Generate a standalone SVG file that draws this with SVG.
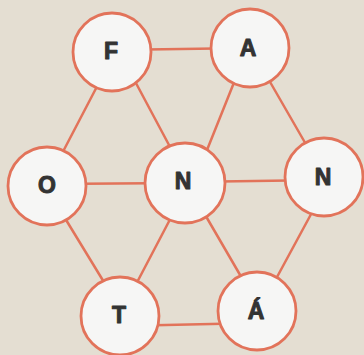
<svg xmlns="http://www.w3.org/2000/svg" width="364" height="355" viewBox="0 0 364 355">
<defs>
<style>
.bg{fill:#e4ded2}
.edge{stroke:#e2735a;stroke-width:2.5;fill:none;stroke-linecap:round}
.node circle{fill:#f6f6f5;stroke:#e2735a;stroke-width:2.8}
.node text{font-family:"Liberation Sans",Arial,sans-serif;font-weight:bold;font-size:23px;fill:#333;stroke:#333;stroke-width:1;stroke-linejoin:round;text-anchor:middle}
</style>
</defs>
<rect class="bg" x="0" y="0" width="364" height="355"/>
<g id="connectors">
<line class="edge" x1="112" y1="50" x2="250" y2="48"/>
<line class="edge" x1="47" y1="184" x2="185" y2="183"/>
<line class="edge" x1="185" y1="182" x2="324" y2="180"/>
<line class="edge" x1="120" y1="326" x2="257" y2="323"/>
<line class="edge" x1="103" y1="75" x2="56" y2="165"/>
<line class="edge" x1="129" y1="70" x2="177" y2="160"/>
<line class="edge" x1="239" y1="70" x2="201" y2="165"/>
<line class="edge" x1="262" y1="68" x2="315" y2="160"/>
<line class="edge" x1="60" y1="210" x2="110" y2="292"/>
<line class="edge" x1="176" y1="208" x2="133" y2="290"/>
<line class="edge" x1="200" y1="206" x2="250" y2="292"/>
<line class="edge" x1="316" y1="205" x2="270" y2="290"/>
</g>
<g id="node-F" class="node"><circle cx="112" cy="52" r="39"/><text x="111" y="59">F</text></g>
<g id="node-A" class="node"><circle cx="250" cy="48" r="39"/><text x="248" y="56">A</text></g>
<g id="node-O" class="node"><circle cx="47" cy="186" r="39"/><text x="47" y="193">O</text></g>
<g id="node-N1" class="node"><circle cx="185" cy="183" r="40"/><text x="183" y="189">N</text></g>
<g id="node-N2" class="node"><circle cx="324" cy="177" r="39"/><text x="323" y="185">N</text></g>
<g id="node-T" class="node"><circle cx="120" cy="316" r="39"/><text x="119" y="323">T</text></g>
<g id="node-A2" class="node"><circle cx="257" cy="311" r="39"/><text x="256" y="319">Á</text></g>
</svg>
